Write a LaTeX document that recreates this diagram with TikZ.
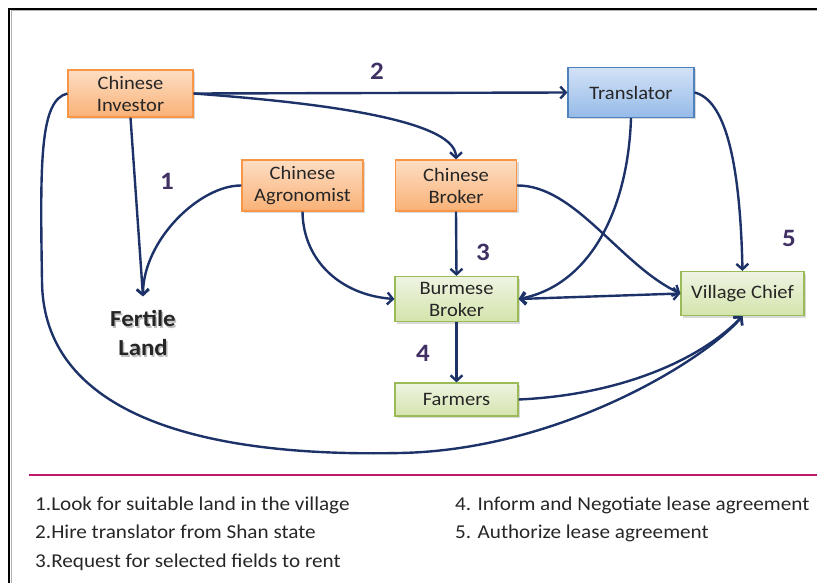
\documentclass[tikz,border=0pt]{standalone}
\usepackage{fontspec}
\setmainfont{Carlito}[FakeStretch=1.08]
\usetikzlibrary{arrows.meta,shadows}

\definecolor{edgeblue}{RGB}{28,50,104}
\definecolor{steppurple}{RGB}{64,48,100}
\definecolor{orangetop}{RGB}{253,222,196}
\definecolor{orangebot}{RGB}{249,177,118}
\definecolor{orangeline}{RGB}{247,150,70}
\definecolor{bluetop}{RGB}{210,226,247}
\definecolor{bluebot}{RGB}{150,186,232}
\definecolor{blueline}{RGB}{79,129,189}
\definecolor{greentop}{RGB}{238,244,226}
\definecolor{greenbot}{RGB}{212,228,172}
\definecolor{greenline}{RGB}{155,187,89}
\definecolor{rulepink}{RGB}{192,22,110}
\definecolor{legendtext}{RGB}{38,38,38}

% bold word with a soft grey copy set slightly below and to the right
\newcommand\withshade[1]{\makebox[0pt][l]{\kern1.5pt\raisebox{-1.5pt}{\textcolor{black!25}{#1}}}#1}

\begin{document}
\begin{tikzpicture}[x=1pt,y=-1pt,
  box/.style={draw, line width=1.2pt, inner sep=0pt, align=center,
    font=\fontsize{19}{22}\selectfont, text=black!85,
    drop shadow={opacity=0.3, shadow xshift=2pt, shadow yshift=-2pt}},
  orangebox/.style={box, draw=orangeline, top color=orangetop, bottom color=orangebot},
  bluebox/.style={box, draw=blueline, top color=bluetop, bottom color=bluebot},
  greenbox/.style={box, draw=greenline, top color=greentop, bottom color=greenbot},
  link/.style={draw=edgeblue, line width=2.4pt,
    -{Straight Barb[length=5.5pt,width=12pt]}},
  twoway/.style={draw=edgeblue, line width=2.4pt,
    {Straight Barb[length=5.5pt,width=12pt]}-{Straight Barb[length=5.5pt,width=12pt]}},
  stepnum/.style={font=\fontsize{25}{25}\selectfont\bfseries, text=steppurple},
  legend/.style={anchor=base west, font=\fontsize{19.6}{22}\selectfont, text=legendtext, inner sep=0pt}
]
\useasboundingbox (0,0) rectangle (817,583);

% outer frame (top and left edges) with a light shadow
\draw[gray!60, line width=1pt] (11,583) -- (11,11) -- (817,11);
\draw[black, line width=2pt] (9,583) -- (9,9) -- (817,9);

% actors
\node[orangebox, minimum width=125pt, minimum height=47pt] (inv) at (130.5,93.5) {Chinese\\Investor};
\node[bluebox,   minimum width=126pt, minimum height=50pt] (tra) at (631,92.5) {Translator};
\node[orangebox, minimum width=121pt, minimum height=51pt] (agr) at (302.5,185.5) {Chinese\\Agronomist};
\node[orangebox, minimum width=121pt, minimum height=51pt] (cbr) at (456,185.5) {Chinese\\Broker};
\node[greenbox,  minimum width=123pt, minimum height=45pt] (bbr) at (456.5,299) {Burmese\\Broker};
\node[greenbox,  minimum width=123pt, minimum height=44pt] (vc)  at (742.5,293.5) {Village Chief};
\node[greenbox,  minimum width=123pt, minimum height=33pt] (far) at (456.5,399.5) {Farmers};

% target of the survey
\node[align=center, font=\fontsize{23}{29}\selectfont\bfseries, text=black!85, inner ysep=14pt]
  (land) at (143,334) {\withshade{Fertile}\\\withshade{Land}};

% step numbers
\node[stepnum] (s1) at (167,181) {1};
\node[stepnum] (s2) at (377,71) {2};
\node[stepnum] (s3) at (483,252) {3};
\node[stepnum] (s4) at (423,353) {4};
\node[stepnum] (s5) at (789,238) {5};

% connectors
\draw[link] (inv.south) -- (land.north);
\draw[link] (agr.west) .. controls (200,185) and (143,240) .. (land.north);
\draw[link] (inv.east) -- (tra.west);
\draw[link] (inv.east) .. controls (280,100) and (456,115) .. (cbr.north);
\draw[link] (inv.west) .. controls (40,100) and (40,160) .. (42,280)
  .. controls (42,400) and (170,458) .. (400,453)
  .. controls (560,450) and (705,360) .. (vc.south);
\draw[link] (agr.south) .. controls (303,260) and (340,295) .. (bbr.west);
\draw[link] (cbr.south) -- (bbr.north);
\draw[link] (cbr.east) .. controls (575,185) and (620,265) .. (vc.west);
\draw[link] (tra.south) .. controls (628,210) and (590,285) .. (bbr.east);
\draw[twoway] (bbr.east) -- (vc.west);
\draw[link] (tra.east) .. controls (725,100) and (740,160) .. (vc.north);
\draw[link] (bbr.south) -- (far.north);
\draw[link] (far.east) .. controls (620,395) and (700,360) .. (vc.south);

% separator and legend
\draw[rulepink, line width=2pt] (29,475) -- (817,475);
\node[legend] (l1) at (35,510) {1.Look for suitable land in the village};
\node[legend] (l2) at (35,538) {2.Hire translator from Shan state};
\node[legend] (l3) at (35,567) {3.Request for selected fields to rent};
\node[legend] (l4) at (455,510) {4. Inform and Negotiate lease agreement};
\node[legend] (l5) at (455,538) {5. Authorize lease agreement};
\end{tikzpicture}
\end{document}
